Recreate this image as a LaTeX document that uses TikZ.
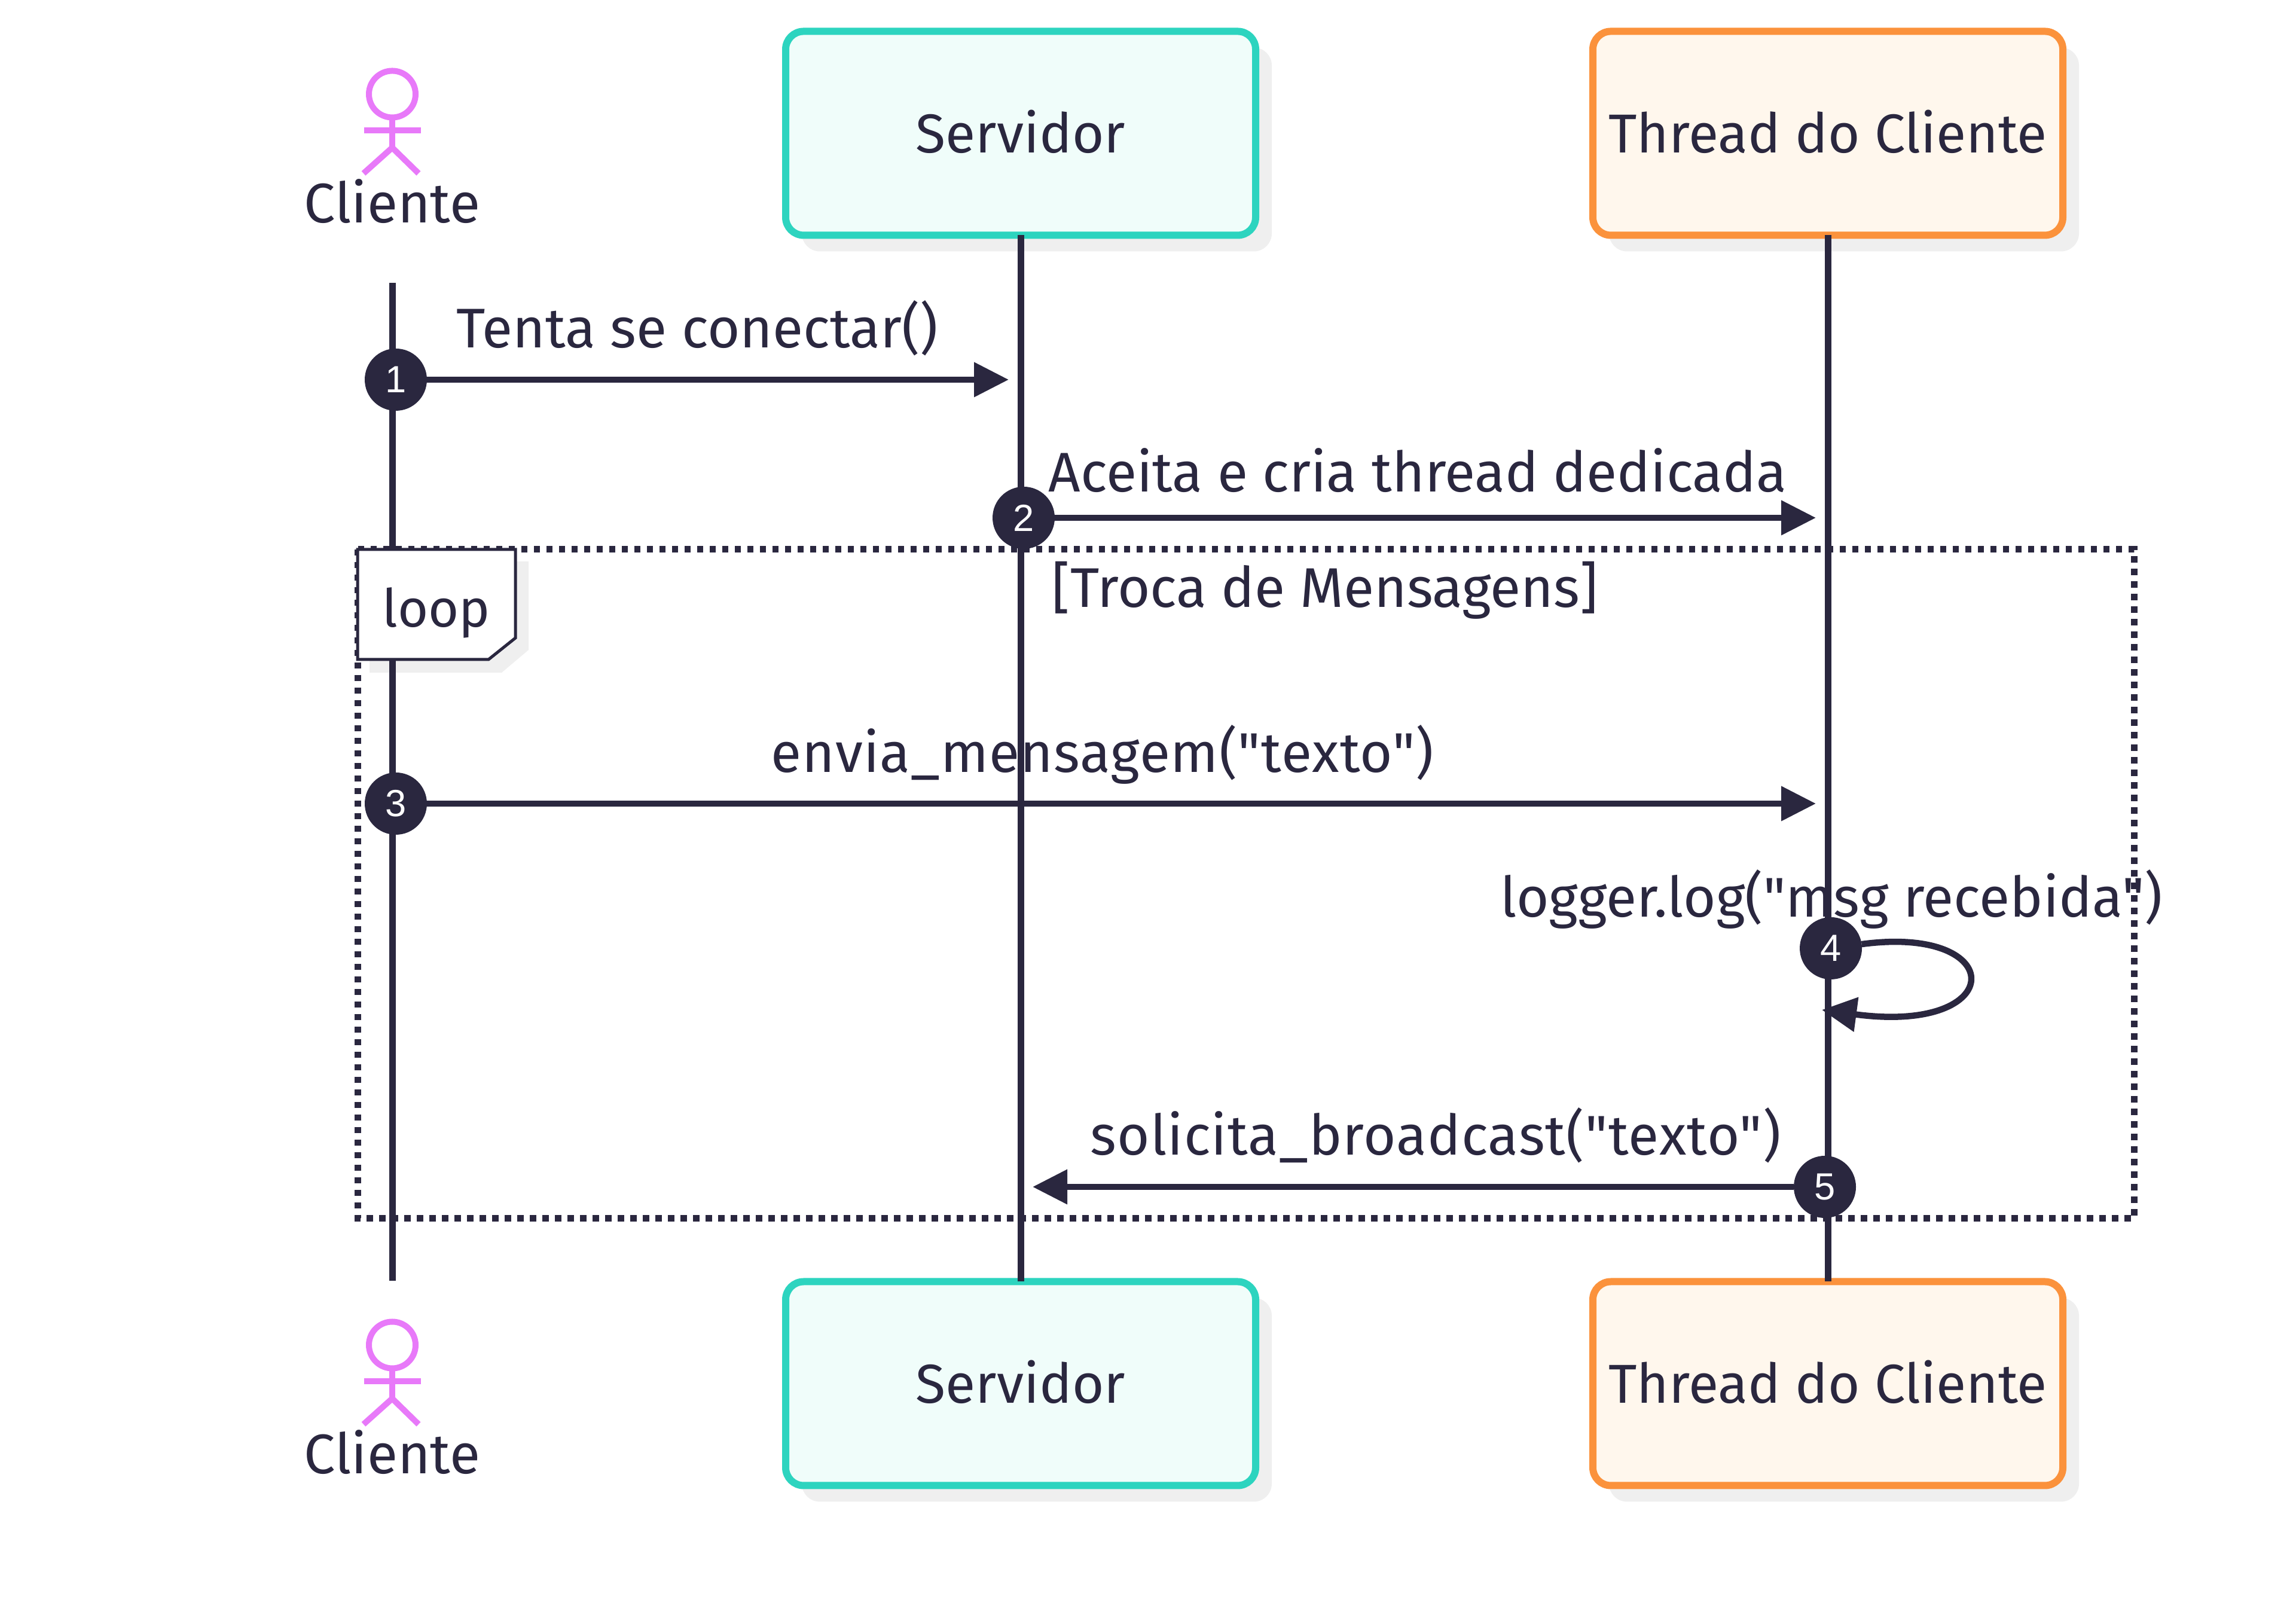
\documentclass[tikz,border=0pt]{standalone}
\usepackage{fontspec}
\newfontfamily\seqfont{Fira Sans}
\newfontfamily\seqwide[LetterSpace=1.2]{Fira Sans}
\newfontfamily\stepfont{Liberation Sans}
\usetikzlibrary{arrows.meta,shadows}
\definecolor{SeqInk}{RGB}{42,39,63}
\definecolor{SeqTeal}{RGB}{45,212,191}
\definecolor{SeqTealFill}{RGB}{240,253,250}
\definecolor{SeqOrange}{RGB}{251,146,60}
\definecolor{SeqOrangeFill}{RGB}{255,247,237}
\definecolor{SeqPink}{RGB}{232,121,249}
\definecolor{SeqShadow}{RGB}{239,239,239}
\tikzset{
  seq/box/.style={
    rectangle,
    line width=1.2mm,
    rounded corners=3mm,
    minimum width=7.86cm,
    minimum height=3.41cm,
    outer sep=0pt,
    text=SeqInk,
    font=\seqfont\fontsize{26.1}{30}\selectfont,
    drop shadow={shadow xshift=2.7mm,shadow yshift=-2.7mm,fill=SeqShadow,opacity=1}
  },
  seq/server/.style={seq/box,draw=SeqTeal,fill=SeqTealFill},
  seq/thread/.style={seq/box,draw=SeqOrange,fill=SeqOrangeFill},
  seq/label/.style={anchor=base,inner sep=0pt,text=SeqInk,font=\seqfont\fontsize{26.6}{30}\selectfont},
  seq/widelabel/.style={seq/label,font=\seqwide\fontsize{26.6}{30}\selectfont},
  seq/figure/.style={draw=SeqPink,line width=1mm},
  seq/life/.style={draw=SeqInk,line width=1.1mm},
  seq/arrow/.style={-{Triangle[length=5.8mm,width=5.6mm]},draw=SeqInk,fill=none,line width=1.05mm},
  seq/stepmark/.style={circle,fill=SeqInk,text=white,minimum size=1.04cm,inner sep=0pt,outer sep=0pt,font=\stepfont\fontsize{18}{20}\selectfont},
  seq/frame/.style={draw=SeqInk,line width=1.1mm,dash pattern=on 1.05mm off 1.05mm},
  seq/tab/.style={draw=SeqInk,fill=white,line width=0.5mm}
}

\begin{document}
\begin{tikzpicture}[x=1cm,y=1cm]
  \useasboundingbox (0,0) rectangle (38.4,27.06);
  % actor boxes
  \node[seq/server] (servidorTop) at (17.07,24.83) {\raisebox{0.6mm}{Servidor}};
  \node[seq/thread] (threadTop) at (30.57,24.83) {\raisebox{0.6mm}{Thread do Cliente}};
  \node[seq/server] (servidorBottom) at (17.07,3.92) {\raisebox{0.6mm}{Servidor}};
  \node[seq/thread] (threadBottom) at (30.57,3.92) {\raisebox{0.6mm}{Thread do Cliente}};
  % stick figures
  \foreach \y/\nm in {0/Top,-20.92/Bottom}{
    \begin{scope}[yshift=\y cm]
      \draw[seq/figure] (6.56,25.485) circle (0.39);
      \draw[seq/figure] (6.56,25.095) -- (6.56,24.59);
      \draw[seq/figure] (6.09,24.88) -- (7.04,24.88);
      \draw[seq/figure] (6.08,24.16) -- (6.56,24.59) -- (7.0,24.16);
      \node[seq/label] (cliente\nm) at (6.56,23.33) {Cliente};
    \end{scope}
  }
  % lifelines
  \coordinate (clienteStart) at (6.56,22.33);
  \coordinate (clienteEnd) at (6.56,5.64);
  \draw[seq/life] (clienteStart) -- (clienteEnd);
  \draw[seq/life] (servidorTop) -- (servidorBottom);
  \draw[seq/life] (threadTop) -- (threadBottom);
  % loop frame
  \draw[seq/frame] (5.98,17.87) rectangle (35.69,6.68);
  \fill[SeqShadow] (6.18,17.67) -- (8.84,17.67) -- (8.84,16.19) -- (8.39,15.81) -- (6.18,15.81) -- cycle;
  \draw[seq/life] (6.56,17.0) -- (6.56,15.7);
  \draw[seq/tab] (5.98,17.87) -- (8.62,17.87) -- (8.62,16.39) -- (8.17,16.03) -- (5.98,16.03) -- cycle;
  \node[seq/label,font=\seqfont\fontsize{25}{30}\selectfont] (loopLabel) at (7.3,16.57) {loop};
  % message labels
  \foreach \nm/\x/\y/\lab in {
    msgOne/11.66/21.24/Tenta se conectar(),
    msgTwo/23.71/18.83/Aceita e cria thread dedicada,
    msgLoop/22.16/16.90/[Troca de Mensagens],
    msgFour/30.63/11.72/logger.log("msg recebida")}{
    \node[seq/label] (\nm) at (\x,\y) {\lab};
  }
  \foreach \nm/\x/\y/\lab in {
    msgThree/18.44/14.14/envia\_mensagem("texto"),
    msgFive/24.01/7.74/solicita\_broadcast("texto")}{
    \node[seq/widelabel] (\nm) at (\x,\y) {\lab};
  }
  % step markers and arrows
  \foreach \nm/\x/\y/\lab in {stepOne/6.62/20.71/1,stepTwo/17.12/18.40/2,stepThree/6.62/13.62/3,stepFour/30.62/11.20/4,stepFive/30.52/7.21/5}{
    \node[seq/stepmark] (\nm) at (\x,\y) {\lab};
  }
  \coordinate (tipOne) at (16.87,20.71);
  \coordinate (tipTwo) at (30.37,18.40);
  \coordinate (tipThree) at (30.37,13.62);
  \coordinate (tipFour) at (30.47,10.17);
  \coordinate (tipFive) at (17.27,7.21);
  \draw[seq/arrow] (stepOne) -- (tipOne);
  \draw[seq/arrow] (stepTwo) -- (tipTwo);
  \draw[seq/arrow] (stepThree) -- (tipThree);
  \draw[seq/arrow] (stepFour) .. controls (33.6,11.6) and (33.6,9.75) .. (tipFour);
  \draw[seq/arrow] (stepFive) -- (tipFive);
\end{tikzpicture}
\end{document}
